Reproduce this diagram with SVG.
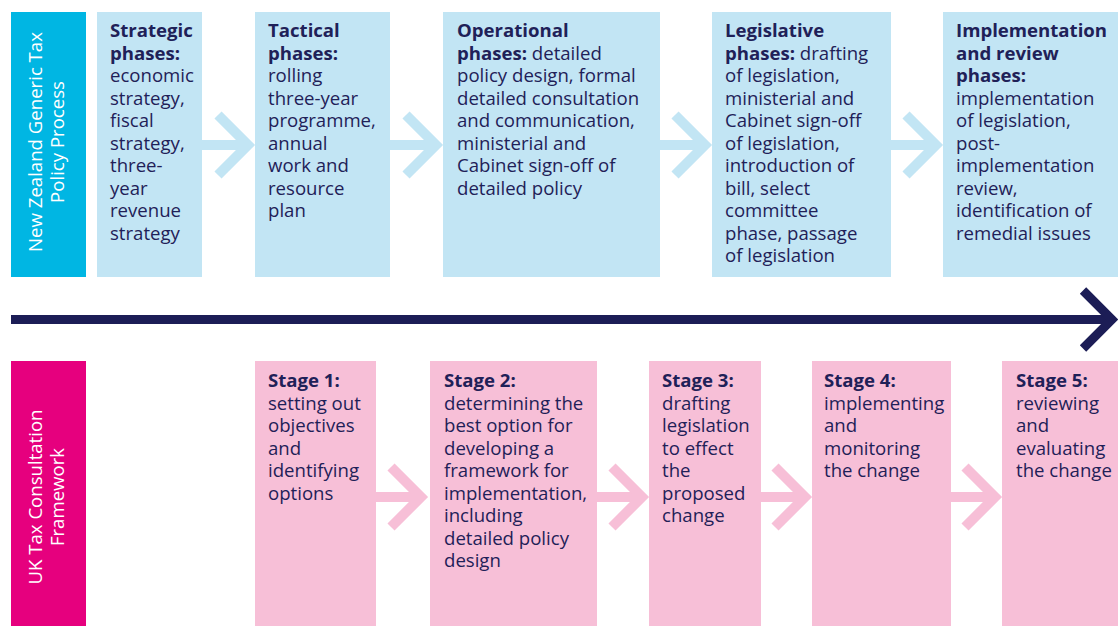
<svg xmlns="http://www.w3.org/2000/svg" width="1118" height="626" viewBox="0 0 1118 626">
<style>
.nzbox{fill:#c2e5f4}
.ukbox{fill:#f7bfd7}
.nzlab{fill:#00b6e3}
.uklab{fill:#e6007e}
.t{font-family:"Open Sans","Noto Sans","DejaVu Sans",sans-serif;font-size:18.6px;fill:#1f2158}
.b{font-weight:bold}
.w{font-family:"Open Sans","Noto Sans","DejaVu Sans",sans-serif;font-size:18.6px;fill:#ffffff;text-anchor:middle}
.ab{stroke:#c2e5f4;stroke-width:10;fill:none}
.ap{stroke:#f7bfd7;stroke-width:10;fill:none}
.am{stroke:#1c1d56;stroke-width:9;fill:none}
</style>
<rect width="1118" height="626" fill="#ffffff"/>

<g id="connectors">
  <g class="ab">
    <line x1="202" y1="145" x2="248" y2="145"/><polyline points="218,115 248,145 218,175"/>
    <line x1="390" y1="145" x2="436" y2="145"/><polyline points="406,115 436,145 406,175"/>
    <line x1="660" y1="145" x2="705" y2="145"/><polyline points="675,115 705,145 675,175"/>
    <line x1="890" y1="145" x2="936" y2="145"/><polyline points="906,115 936,145 906,175"/>
  </g>
  <g class="ap">
    <line x1="376" y1="497" x2="421" y2="497"/><polyline points="391,467 421,497 391,527"/>
    <line x1="597" y1="497" x2="642" y2="497"/><polyline points="612,467 642,497 612,527"/>
    <line x1="761" y1="497" x2="805" y2="497"/><polyline points="775,467 805,497 775,527"/>
    <line x1="951" y1="497" x2="995" y2="497"/><polyline points="965,467 995,497 965,527"/>
  </g>
  <g class="am">
    <line x1="11" y1="319.5" x2="1110" y2="319.5"/><polyline points="1083,290.5 1112,319.5 1083,348.5"/>
  </g>
</g>

<g id="nz-label">
  <rect class="nzlab" x="11" y="12" width="75" height="265"/>
  <text class="w" transform="translate(42,142) rotate(-90)">New Zealand Generic Tax</text>
  <text class="w" transform="translate(64,142) rotate(-90)">Policy Process</text>
</g>
<g id="uk-label">
  <rect class="uklab" x="11" y="361" width="75" height="265"/>
  <text class="w" transform="translate(42,497) rotate(-90)">UK Tax Consultation</text>
  <text class="w" transform="translate(64,497) rotate(-90)">Framework</text>
</g>

<g id="strategic">
  <rect class="nzbox" x="97" y="12" width="105" height="265"/>
  <text class="t" x="110" y="37"><tspan class="b">Strategic</tspan><tspan class="b" x="110" dy="22.5">phases:</tspan><tspan x="110" dy="22.5">economic</tspan><tspan x="110" dy="22.5">strategy,</tspan><tspan x="110" dy="22.5">fiscal</tspan><tspan x="110" dy="22.5">strategy,</tspan><tspan x="110" dy="22.5">three-</tspan><tspan x="110" dy="22.5">year</tspan><tspan x="110" dy="22.5">revenue</tspan><tspan x="110" dy="22.5">strategy</tspan></text>
</g>
<g id="tactical">
  <rect class="nzbox" x="255" y="12" width="135" height="265"/>
  <text class="t" x="268" y="37"><tspan class="b">Tactical</tspan><tspan class="b" x="268" dy="22.5">phases:</tspan><tspan x="268" dy="22.5">rolling</tspan><tspan x="268" dy="22.5">three-year</tspan><tspan x="268" dy="22.5">programme,</tspan><tspan x="268" dy="22.5">annual</tspan><tspan x="268" dy="22.5">work and</tspan><tspan x="268" dy="22.5">resource</tspan><tspan x="268" dy="22.5">plan</tspan></text>
</g>
<g id="operational">
  <rect class="nzbox" x="443" y="12" width="217" height="265"/>
  <text class="t" x="457" y="37"><tspan class="b">Operational</tspan><tspan class="b" x="457" dy="22.5">phases:</tspan><tspan> detailed</tspan><tspan x="457" dy="22.5">policy design, formal</tspan><tspan x="457" dy="22.5">detailed consultation</tspan><tspan x="457" dy="22.5">and communication,</tspan><tspan x="457" dy="22.5">ministerial and</tspan><tspan x="457" dy="22.5">Cabinet sign-off of</tspan><tspan x="457" dy="22.5">detailed policy</tspan></text>
</g>
<g id="legislative">
  <rect class="nzbox" x="712" y="12" width="179" height="265"/>
  <text class="t" x="725" y="37"><tspan class="b">Legislative</tspan><tspan class="b" x="725" dy="22.5">phases:</tspan><tspan> drafting</tspan><tspan x="725" dy="22.5">of legislation,</tspan><tspan x="725" dy="22.5">ministerial and</tspan><tspan x="725" dy="22.5">Cabinet sign-off</tspan><tspan x="725" dy="22.5">of legislation,</tspan><tspan x="725" dy="22.5">introduction of</tspan><tspan x="725" dy="22.5">bill, select</tspan><tspan x="725" dy="22.5">committee</tspan><tspan x="725" dy="22.5">phase, passage</tspan><tspan x="725" dy="22.5">of legislation</tspan></text>
</g>
<g id="implementation">
  <rect class="nzbox" x="943" y="12" width="175" height="265"/>
  <text class="t" x="956" y="37"><tspan class="b">Implementation</tspan><tspan class="b" x="956" dy="22.5">and review</tspan><tspan class="b" x="956" dy="22.5">phases:</tspan><tspan x="956" dy="22.5">implementation</tspan><tspan x="956" dy="22.5">of legislation,</tspan><tspan x="956" dy="22.5">post-</tspan><tspan x="956" dy="22.5">implementation</tspan><tspan x="956" dy="22.5">review,</tspan><tspan x="956" dy="22.5">identification of</tspan><tspan x="956" dy="22.5">remedial issues</tspan></text>
</g>

<g id="stage1">
  <rect class="ukbox" x="255" y="361" width="121" height="265"/>
  <text class="t" x="268" y="387"><tspan class="b">Stage 1:</tspan><tspan x="268" dy="22.5">setting out</tspan><tspan x="268" dy="22.5">objectives</tspan><tspan x="268" dy="22.5">and</tspan><tspan x="268" dy="22.5">identifying</tspan><tspan x="268" dy="22.5">options</tspan></text>
</g>
<g id="stage2">
  <rect class="ukbox" x="430" y="361" width="167" height="265"/>
  <text class="t" x="444" y="387"><tspan class="b">Stage 2:</tspan><tspan x="444" dy="22.5">determining the</tspan><tspan x="444" dy="22.5">best option for</tspan><tspan x="444" dy="22.5">developing a</tspan><tspan x="444" dy="22.5">framework for</tspan><tspan x="444" dy="22.5">implementation,</tspan><tspan x="444" dy="22.5">including</tspan><tspan x="444" dy="22.5">detailed policy</tspan><tspan x="444" dy="22.5">design</tspan></text>
</g>
<g id="stage3">
  <rect class="ukbox" x="649" y="361" width="112" height="265"/>
  <text class="t" x="662" y="387"><tspan class="b">Stage 3:</tspan><tspan x="662" dy="22.5">drafting</tspan><tspan x="662" dy="22.5">legislation</tspan><tspan x="662" dy="22.5">to effect</tspan><tspan x="662" dy="22.5">the</tspan><tspan x="662" dy="22.5">proposed</tspan><tspan x="662" dy="22.5">change</tspan></text>
</g>
<g id="stage4">
  <rect class="ukbox" x="812" y="361" width="139" height="265"/>
  <text class="t" x="824" y="387"><tspan class="b">Stage 4:</tspan><tspan x="824" dy="22.5">implementing</tspan><tspan x="824" dy="22.5">and</tspan><tspan x="824" dy="22.5">monitoring</tspan><tspan x="824" dy="22.5">the change</tspan></text>
</g>
<g id="stage5">
  <rect class="ukbox" x="1002" y="361" width="116" height="265"/>
  <text class="t" x="1016" y="387"><tspan class="b">Stage 5:</tspan><tspan x="1016" dy="22.5">reviewing</tspan><tspan x="1016" dy="22.5">and</tspan><tspan x="1016" dy="22.5">evaluating</tspan><tspan x="1016" dy="22.5">the change</tspan></text>
</g>
</svg>
